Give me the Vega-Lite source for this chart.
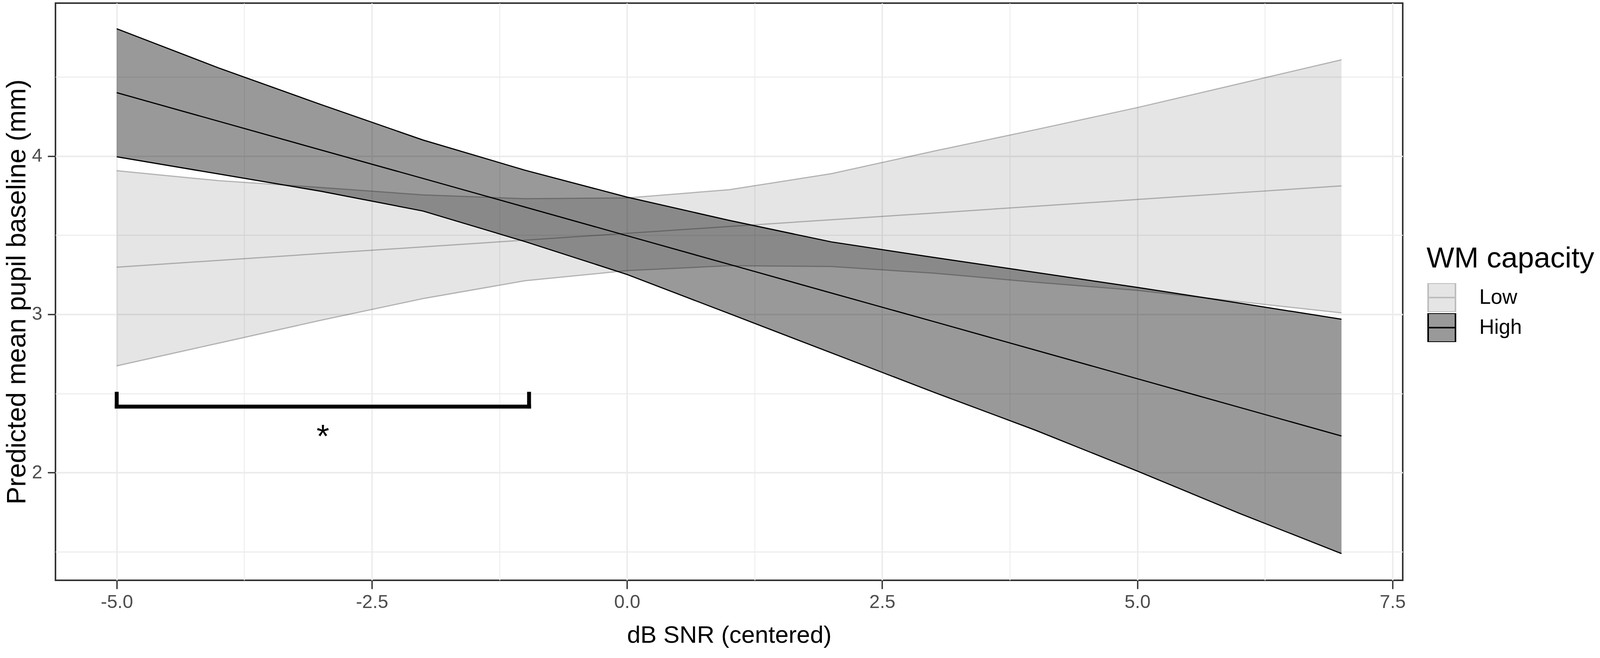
{
  "$schema": "https://vega.github.io/schema/vega-lite/v6.json",
  "autosize": {"type": "none"},
  "width": 3449,
  "height": 1478,
  "padding": {"left": 142, "top": 8, "right": 505, "bottom": 199},
  "background": "white",
  "config": {
    "view": {"stroke": "#333333", "strokeWidth": 4},
    "font": "Liberation Sans",
    "axis": {
      "domain": false,
      "labelFont": "Liberation Sans",
      "titleFont": "Liberation Sans",
      "labelColor": "#4d4d4d",
      "labelFontSize": 48,
      "titleFontWeight": "normal",
      "titleColor": "#000000",
      "tickColor": "#333333",
      "tickWidth": 3.5,
      "gridColor": "#ebebeb",
      "labelOverlap": false
    },
    "legend": {
      "orient": "none",
      "legendX": 3510,
      "legendY": 618,
      "padding": 0,
      "titleFont": "Liberation Sans",
      "titleFontSize": 75,
      "titleFontWeight": "normal",
      "titleColor": "#000000",
      "titlePadding": 24,
      "titleLimit": 2000,
      "labelFont": "Liberation Sans",
      "labelFontSize": 53,
      "labelColor": "#000000",
      "labelOffset": 57,
      "labelLimit": 1000,
      "symbolType": "M-0.946,-1H0.946V1H-0.946ZM-0.946,0H0.946",
      "symbolSize": 5476,
      "symbolStrokeWidth": 4,
      "clipHeight": 74,
      "rowPadding": 3
    }
  },
  "datasets": {
    "pred": [
      {"snr": -5, "group": "Low", "fit": 3.298, "lower": 2.674, "upper": 3.908},
      {"snr": -4, "group": "Low", "fit": 3.341, "lower": 2.818, "upper": 3.845},
      {"snr": -3, "group": "Low", "fit": 3.384, "lower": 2.962, "upper": 3.802},
      {"snr": -2, "group": "Low", "fit": 3.426, "lower": 3.099, "upper": 3.755},
      {"snr": -1, "group": "Low", "fit": 3.469, "lower": 3.212, "upper": 3.731},
      {"snr": 0, "group": "Low", "fit": 3.512, "lower": 3.276, "upper": 3.736},
      {"snr": 1, "group": "Low", "fit": 3.555, "lower": 3.307, "upper": 3.788},
      {"snr": 2, "group": "Low", "fit": 3.598, "lower": 3.302, "upper": 3.889},
      {"snr": 3, "group": "Low", "fit": 3.640, "lower": 3.260, "upper": 4.031},
      {"snr": 4, "group": "Low", "fit": 3.683, "lower": 3.203, "upper": 4.167},
      {"snr": 5, "group": "Low", "fit": 3.726, "lower": 3.151, "upper": 4.307},
      {"snr": 6, "group": "Low", "fit": 3.769, "lower": 3.080, "upper": 4.458},
      {"snr": 7, "group": "Low", "fit": 3.812, "lower": 3.009, "upper": 4.609},
      {"snr": -5, "group": "High", "fit": 4.401, "lower": 3.996, "upper": 4.805},
      {"snr": -4, "group": "High", "fit": 4.220, "lower": 3.887, "upper": 4.557},
      {"snr": -3, "group": "High", "fit": 4.039, "lower": 3.778, "upper": 4.326},
      {"snr": -2, "group": "High", "fit": 3.859, "lower": 3.653, "upper": 4.102},
      {"snr": -1, "group": "High", "fit": 3.678, "lower": 3.460, "upper": 3.911},
      {"snr": 0, "group": "High", "fit": 3.497, "lower": 3.252, "upper": 3.741},
      {"snr": 1, "group": "High", "fit": 3.316, "lower": 3.005, "upper": 3.594},
      {"snr": 2, "group": "High", "fit": 3.135, "lower": 2.757, "upper": 3.458},
      {"snr": 3, "group": "High", "fit": 2.955, "lower": 2.509, "upper": 3.360},
      {"snr": 4, "group": "High", "fit": 2.774, "lower": 2.268, "upper": 3.265},
      {"snr": 5, "group": "High", "fit": 2.593, "lower": 2.009, "upper": 3.170},
      {"snr": 6, "group": "High", "fit": 2.412, "lower": 1.742, "upper": 3.071},
      {"snr": 7, "group": "High", "fit": 2.231, "lower": 1.488, "upper": 2.969}
    ],
    "bracket": [
      {"bx": -5, "bx2": -0.96, "by": 2.417, "by2": 2.417},
      {"bx": -5, "bx2": -5, "by": 2.417, "by2": 2.498},
      {"bx": -0.96, "bx2": -0.96, "by": 2.417, "by2": 2.498}
    ],
    "sig": [
      {"sx": -2.98, "sy": 2.158, "label": "*"}
    ]
  },
  "encoding": {
    "x": {
      "type": "quantitative",
      "scale": {"domain": [-5.6, 7.6], "nice": false, "zero": false}
    },
    "y": {
      "type": "quantitative",
      "scale": {"domain": [1.319, 4.967], "nice": false, "zero": false}
    }
  },
  "layer": [
    {
      "data": {"name": "pred"},
      "mark": {"type": "area", "blend": "multiply", "strokeWidth": 0},
      "encoding": {
        "x": {
          "field": "snr",
          "type": "quantitative",
          "title": "dB SNR (centered)",
          "axis": {
            "values": [-5, -3.75, -2.5, -1.25, 0, 1.25, 2.5, 3.75, 5, 6.25, 7.5],
            "labelExpr": "datum.value % 2.5 === 0 ? replace(format(datum.value, '.1f'), '−', '-') : ''",
            "tickSize": 22,
            "labelPadding": 10,
            "titleFontSize": 62,
            "titlePadding": 30,
            "tickOpacity": {"condition": {"test": "datum.value % 2.5 === 0", "value": 1}, "value": 0},
            "gridWidth": {"condition": {"test": "datum.value % 2.5 === 0", "value": 3.6}, "value": 2.1}
          }
        },
        "y": {
          "field": "lower",
          "type": "quantitative",
          "title": "Predicted mean pupil baseline (mm)",
          "axis": {
            "values": [1.5, 2, 2.5, 3, 3.5, 4, 4.5],
            "labelExpr": "datum.value % 1 === 0 ? format(datum.value, 'd') : ''",
            "tickSize": 20,
            "labelPadding": 14,
            "titleFontSize": 68,
            "titlePadding": 3,
            "tickOpacity": {"condition": {"test": "datum.value % 1 === 0", "value": 1}, "value": 0},
            "gridWidth": {"condition": {"test": "datum.value % 1 === 0", "value": 4}, "value": 2.4}
          }
        },
        "y2": {"field": "upper"},
        "fill": {
          "field": "group",
          "type": "nominal",
          "title": "WM capacity",
          "scale": {"domain": ["Low", "High"], "range": ["#e5e5e5", "#999999"]}
        }
      }
    },
    {
      "data": {"name": "pred"},
      "transform": [
        {"fold": ["lower", "fit", "upper"], "as": ["bound", "val"]}
      ],
      "mark": {"type": "line", "blend": "multiply", "strokeWidth": 3},
      "encoding": {
        "x": {"field": "snr", "type": "quantitative"},
        "y": {"field": "val", "type": "quantitative"},
        "detail": {"field": "bound", "type": "nominal"},
        "stroke": {
          "field": "group",
          "type": "nominal",
          "title": "WM capacity",
          "scale": {"domain": ["Low", "High"], "range": ["#bdbdbd", "#000000"]}
        }
      }
    },
    {
      "data": {"name": "bracket"},
      "mark": {"type": "rule", "color": "#000000", "strokeWidth": 10, "strokeCap": "square"},
      "encoding": {
        "x": {"field": "bx", "type": "quantitative"},
        "x2": {"field": "bx2"},
        "y": {"field": "by", "type": "quantitative"},
        "y2": {"field": "by2"}
      }
    },
    {
      "data": {"name": "sig"},
      "mark": {"type": "text", "font": "Liberation Sans", "fontSize": 84, "align": "center", "baseline": "alphabetic", "color": "#000000"},
      "encoding": {
        "x": {"field": "sx", "type": "quantitative"},
        "y": {"field": "sy", "type": "quantitative"},
        "text": {"field": "label"}
      }
    }
  ]
}
